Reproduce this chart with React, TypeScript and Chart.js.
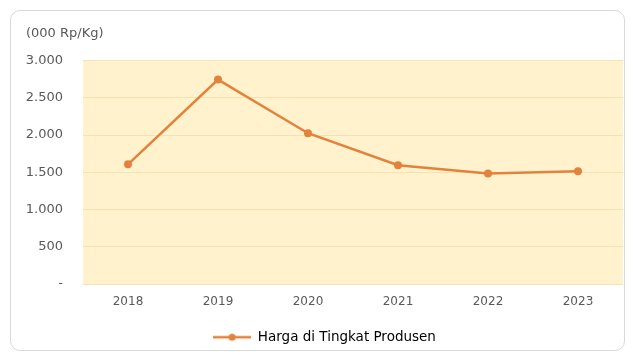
import React, { useEffect, useRef } from "react";
import { Chart, registerables } from "chart.js";

Chart.register(...registerables);

const categories = ["2018", "2019", "2020", "2021", "2022", "2023"];
const hargaProdusen = [1608, 2745, 2025, 1595, 1485, 1515];
const yTicks = [0, 500, 1000, 1500, 2000, 2500, 3000];
const seriesName = "Harga di Tingkat Produsen";
const unitLabel = "(000 Rp/Kg)";

const LINE_COLOR = "#E2823C";
const TEXT_COLOR = "#595959";
const FONT = "'DejaVu Sans', Verdana, sans-serif";

function fmt(v: number): string {
  if (v === 0) return "-";
  return v.toLocaleString("de-DE");
}

const plotBg = {
  id: "plotBg",
  beforeDraw(chart: any) {
    const { ctx, chartArea } = chart;
    if (!chartArea) return;
    ctx.save();
    ctx.fillStyle = "#FFF2CC";
    ctx.fillRect(chartArea.left, chartArea.top, chartArea.right - chartArea.left, chartArea.bottom - chartArea.top);
    ctx.restore();
  },
};

function legendMarker(): HTMLCanvasElement {
  const c = document.createElement("canvas");
  c.width = 38;
  c.height = 10;
  const g = c.getContext("2d")!;
  g.strokeStyle = LINE_COLOR;
  g.lineWidth = 2.5;
  g.beginPath();
  g.moveTo(0, 5);
  g.lineTo(38, 5);
  g.stroke();
  g.fillStyle = LINE_COLOR;
  g.beginPath();
  g.arc(19, 5, 3.5, 0, Math.PI * 2);
  g.fill();
  return c;
}

export default function App() {
  const ref = useRef<HTMLCanvasElement>(null);
  useEffect(() => {
    if (!ref.current) return;
    const marker = legendMarker();
    const chart = new Chart(ref.current, {
      type: "line",
      data: {
        labels: categories,
        datasets: [
          {
            label: seriesName,
            data: hargaProdusen,
            borderColor: LINE_COLOR,
            backgroundColor: LINE_COLOR,
            borderWidth: 2.5,
            pointRadius: 4,
            pointStyle: "circle",
            pointBackgroundColor: LINE_COLOR,
            pointBorderWidth: 0,
            tension: 0,
          },
        ],
      },
      plugins: [plotBg],
      options: {
        animation: false,
        responsive: false,
        maintainAspectRatio: false,
        layout: { padding: { top: 20, left: 26, right: 10, bottom: 3 } },
        plugins: {
          title: {
            display: true,
            text: unitLabel,
            align: "start",
            color: TEXT_COLOR,
            font: { family: FONT, size: 13, weight: "normal" },
            padding: { top: 6, bottom: 19 },
          },
          legend: {
            position: "bottom",
            labels: {
              color: TEXT_COLOR,
              font: { family: FONT, size: 13.5 },
              usePointStyle: true,
              pointStyleWidth: 38,
              boxHeight: 10,
              padding: 10,
              generateLabels: () => [
                {
                  text: seriesName,
                  pointStyle: marker as any,
                  fillStyle: LINE_COLOR,
                  strokeStyle: LINE_COLOR,
                  lineWidth: 0,
                  datasetIndex: 0,
                  hidden: false,
                } as any,
              ],
            },
          },
          tooltip: { enabled: false },
        },
        scales: {
          x: {
            offset: true,
            grid: { display: false, drawTicks: false },
            border: { display: false },
            ticks: { color: TEXT_COLOR, font: { family: FONT, size: 12 }, padding: 11 },
          },
          y: {
            min: 0,
            max: 3000,
            afterFit: (s: any) => {
              s.width = 57;
            },
            afterBuildTicks: (s: any) => {
              s.ticks = yTicks.map((v) => ({ value: v }));
            },
            grid: { color: "#F5E2B4", drawTicks: false, lineWidth: 1 },
            border: { display: false },
            ticks: {
              color: TEXT_COLOR,
              font: { family: FONT, size: 13 },
              padding: 20,
              callback: (v: any) => fmt(Number(v)),
            },
          },
        },
      },
    });
    return () => chart.destroy();
  }, []);

  return (
    <div style={{ position: "fixed", left: 0, top: 0, width: 633, height: 357, background: "#fff" }}>
      <div
        style={{
          position: "absolute",
          left: 10,
          top: 10,
          width: 615,
          height: 341,
          border: "1px solid #D9D9D9",
          borderRadius: 10,
          boxSizing: "border-box",
        }}
      />
      <canvas ref={ref} width={633} height={357} style={{ position: "absolute", left: 0, top: 0 }} />
    </div>
  );
}
